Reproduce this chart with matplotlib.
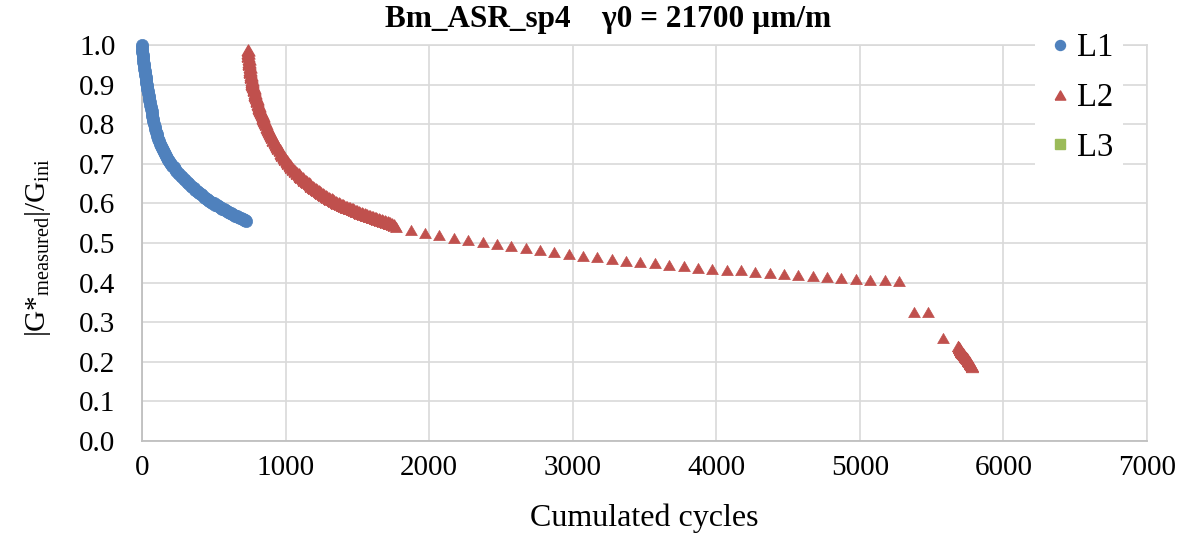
import numpy as np
import matplotlib
matplotlib.use('Agg')
import matplotlib.pyplot as plt
from matplotlib.lines import Line2D

# ---------------- data ----------------
L1_cycles = [0, 1, 2, 3, 5, 6, 8, 10, 12, 14, 16, 18, 20, 23, 25, 27, 29, 31, 33, 36,
             38, 41, 43, 46, 49, 52, 55, 58, 61, 64, 67, 70, 73, 77, 80, 84, 88, 92, 97,
             102, 107, 112, 118, 124, 130, 136, 143, 150, 157, 164, 172, 179, 186, 193,
             200, 210, 220, 230, 240, 250, 260, 270, 280, 290, 300, 310, 320, 330, 340,
             350, 360, 370, 380, 390, 400, 410, 420, 430, 440, 450, 460, 470, 480, 490,
             500, 510, 520, 530, 540, 550, 560, 570, 580, 590, 600, 610, 620, 630, 640,
             650, 660, 670, 680, 690, 700, 710, 720, 727]
L1_values = [1.000, 0.994, 0.988, 0.982, 0.976, 0.970, 0.964, 0.958, 0.952, 0.946, 0.940,
             0.934, 0.929, 0.923, 0.918, 0.913, 0.909, 0.904, 0.900, 0.894, 0.889, 0.883,
             0.878, 0.872, 0.866, 0.860, 0.855, 0.849, 0.844, 0.838, 0.833, 0.826, 0.820,
             0.813, 0.807, 0.800, 0.793, 0.787, 0.781, 0.775, 0.769, 0.763, 0.757, 0.751,
             0.745, 0.739, 0.734, 0.729, 0.724, 0.719, 0.714, 0.710, 0.706, 0.703, 0.700,
             0.695, 0.691, 0.686, 0.682, 0.678, 0.674, 0.670, 0.666, 0.662, 0.659, 0.655,
             0.652, 0.648, 0.645, 0.641, 0.638, 0.635, 0.632, 0.629, 0.626, 0.623, 0.620,
             0.617, 0.614, 0.611, 0.609, 0.606, 0.604, 0.602, 0.600, 0.597, 0.595, 0.593,
             0.591, 0.589, 0.587, 0.585, 0.583, 0.581, 0.579, 0.577, 0.575, 0.573, 0.571,
             0.569, 0.568, 0.566, 0.564, 0.562, 0.561, 0.559, 0.557, 0.556]

L2_dense_cycles = [736, 738, 740, 742, 744, 746, 749, 751, 754, 757, 760, 763, 766, 769, 773,
                   777, 781, 785, 789, 793, 798, 803, 808, 813, 818, 823, 829, 834, 840, 846,
                   852, 858, 865, 871, 878, 885, 892, 899, 907, 915, 923, 931, 940, 949, 958,
                   967, 977, 987, 997, 1007, 1018, 1029, 1040, 1052, 1065, 1078, 1092, 1101,
                   1110, 1120, 1130, 1140, 1150, 1160, 1170, 1180, 1190, 1200, 1210, 1220,
                   1230, 1240, 1250, 1260, 1270, 1280, 1290, 1300, 1310, 1320, 1330, 1340,
                   1350, 1360, 1370, 1380, 1390, 1400, 1410, 1420, 1430, 1440, 1450, 1460,
                   1470, 1480, 1490, 1500, 1510, 1520, 1530, 1540, 1550, 1560, 1570, 1580,
                   1590, 1600, 1610, 1620, 1630, 1640, 1650, 1660, 1670, 1680, 1690, 1700,
                   1710, 1720, 1730, 1742, 1754]
L2_dense_values = [0.987, 0.979, 0.972, 0.965, 0.958, 0.951, 0.944, 0.937, 0.931, 0.924,
                   0.918, 0.912, 0.907, 0.902, 0.897, 0.891, 0.886, 0.880, 0.875, 0.869,
                   0.864, 0.858, 0.852, 0.846, 0.841, 0.835, 0.830, 0.825, 0.820, 0.815,
                   0.810, 0.805, 0.800, 0.794, 0.789, 0.783, 0.778, 0.772, 0.767, 0.761,
                   0.756, 0.750, 0.745, 0.739, 0.734, 0.728, 0.723, 0.717, 0.712, 0.707,
                   0.702, 0.697, 0.693, 0.688, 0.683, 0.678, 0.673, 0.670, 0.667, 0.663,
                   0.660, 0.657, 0.654, 0.651, 0.648, 0.645, 0.642, 0.639, 0.636, 0.633,
                   0.631, 0.628, 0.626, 0.623, 0.621, 0.619, 0.617, 0.614, 0.612, 0.610,
                   0.608, 0.606, 0.604, 0.602, 0.601, 0.599, 0.597, 0.595, 0.594, 0.592,
                   0.591, 0.589, 0.588, 0.586, 0.585, 0.583, 0.582, 0.580, 0.579, 0.577,
                   0.576, 0.574, 0.573, 0.571, 0.570, 0.569, 0.568, 0.566, 0.565, 0.563,
                   0.562, 0.561, 0.560, 0.558, 0.557, 0.556, 0.555, 0.553, 0.552, 0.551,
                   0.550, 0.548, 0.546]

L2_sparse_cycles = [1772, 1872, 1972, 2072, 2172, 2272, 2372, 2472, 2572, 2672, 2772, 2872,
                    2972, 3072, 3172, 3272, 3372, 3472, 3572, 3672, 3772, 3872, 3972, 4072,
                    4172, 4272, 4372, 4472, 4572, 4672, 4772, 4872, 4972, 5072, 5172, 5272,
                    5378, 5478, 5580]
L2_sparse_values = [0.540, 0.533, 0.526, 0.521, 0.513, 0.508, 0.503, 0.498, 0.492, 0.487,
                    0.482, 0.477, 0.473, 0.468, 0.464, 0.460, 0.455, 0.453, 0.449, 0.444,
                    0.442, 0.438, 0.435, 0.433, 0.431, 0.428, 0.424, 0.422, 0.419, 0.417,
                    0.414, 0.412, 0.409, 0.407, 0.406, 0.404, 0.326, 0.325, 0.261]

L2_tail_cycles = [5687, 5690, 5693, 5697, 5700, 5704, 5707, 5711, 5714, 5718, 5721, 5725,
                  5728, 5732, 5735, 5739, 5742, 5746, 5749, 5753, 5756, 5760, 5763, 5767,
                  5770, 5773, 5776, 5779, 5782]
L2_tail_values = [0.240, 0.237, 0.235, 0.232, 0.230, 0.228, 0.226, 0.224, 0.222, 0.221,
                  0.219, 0.218, 0.216, 0.215, 0.213, 0.212, 0.210, 0.209, 0.207, 0.205,
                  0.203, 0.201, 0.199, 0.197, 0.195, 0.193, 0.191, 0.190, 0.188]

L3_cycles = []
L3_values = []

x_ticks = [0, 1000, 2000, 3000, 4000, 5000, 6000, 7000]
y_ticks = [0.0, 0.1, 0.2, 0.3, 0.4, 0.5, 0.6, 0.7, 0.8, 0.9, 1.0]

series_names = ['L1', 'L2', 'L3']
title_text = 'Bm_ASR_sp4    \u03b30 = 21700 \u00b5m/m'
x_label = 'Cumulated cycles'
y_label = r'$|\mathrm{G{*}}_{\mathrm{measured}}|/\mathrm{G}_{\mathrm{ini}}$'

# ---------------- style ----------------
plt.rcParams['font.family'] = ['Liberation Serif', 'DejaVu Serif']
plt.rcParams['mathtext.fontset'] = 'custom'
plt.rcParams['mathtext.rm'] = 'Liberation Serif'
plt.rcParams['mathtext.it'] = 'Liberation Serif:italic'
plt.rcParams['mathtext.bf'] = 'Liberation Serif:bold'

C1, C2, C3 = '#4F81BD', '#C0504D', '#9BBB59'
GRID = '#D9D9D9'
FS = 21

# Excel-like triangle (width > height)
TRI = [(-1.0, -0.866), (1.0, -0.866), (0.0, 0.866), (-1.0, -0.866)]

W, H = 1190, 537
fig = plt.figure(figsize=(W / 100, H / 100), dpi=100)
ax = fig.add_axes([142 / W, 1 - 441 / H, (1147 - 142) / W, (441 - 45) / H])

ax.plot(L1_cycles, L1_values, linestyle='none', marker='o', ms=8.8, color=C1,
        mec=C1, mew=0.5, clip_on=False, zorder=3)
# dense part of L2 (many overlapping markers)
ax.plot(L2_dense_cycles, L2_dense_values, linestyle='none', marker=TRI, ms=9.4,
        color=C2, mec=C2, mew=0.8, clip_on=False, zorder=3)
ax.plot(L2_sparse_cycles, L2_sparse_values, linestyle='none', marker=TRI, ms=8.4,
        color=C2, mec=C2, mew=0.5, clip_on=False, zorder=3)
ax.plot(L2_tail_cycles, L2_tail_values, linestyle='none', marker=TRI, ms=8.8,
        color=C2, mec=C2, mew=0.5, clip_on=False, zorder=3)
ax.plot(L3_cycles, L3_values, linestyle='none', marker='s', ms=6.5, color=C3, mec=C3)

ax.set_xlim(0, 7000)
ax.set_ylim(0, 1.0)
ax.set_xticks(x_ticks)
ax.set_xticklabels([str(v) for v in x_ticks])
ax.set_yticks(y_ticks)
ax.set_yticklabels(['%.1f' % v for v in y_ticks])
ax.tick_params(length=0, labelsize=FS)
ax.tick_params(axis='x', pad=10)
ax.tick_params(axis='y', pad=19)
ax.grid(True, color=GRID, lw=1.2)
ax.set_axisbelow(True)
for s in ['top', 'right']:
    ax.spines[s].set_color(GRID)
    ax.spines[s].set_linewidth(1.2)
for s in ['left', 'bottom']:
    ax.spines[s].set_color('#BFBFBF')
    ax.spines[s].set_linewidth(1.3)

fig.text(608 / W, 1 - 20 / H, title_text, ha='center', va='center',
         fontsize=22.5, fontweight='bold')
fig.text(644 / W, 1 - 518 / H, x_label, ha='center', va='center', fontsize=23)
fig.text(38 / W, 1 - 248 / H, y_label, ha='center', va='center', fontsize=FS,
         rotation=90)

handles = [
    Line2D([], [], linestyle='none', marker='o', ms=7.2, color=C1, mec=C1),
    Line2D([], [], linestyle='none', marker=TRI, ms=7.6, color=C2, mec=C2),
    Line2D([], [], linestyle='none', marker='s', ms=6.5, color=C3, mec=C3),
]
LFS = 23.5
leg = ax.legend(handles, series_names, loc='upper left',
                bbox_to_anchor=(1035 / W, 1 - 23 / H), bbox_transform=fig.transFigure,
                fontsize=LFS, frameon=True, framealpha=1, facecolor='white',
                edgecolor='none', fancybox=False, borderpad=0.3, borderaxespad=0,
                handlelength=0.93, handletextpad=0.05, labelspacing=0.59)
leg.set_zorder(5)

fig.savefig('out.png', dpi=100, facecolor='white')
